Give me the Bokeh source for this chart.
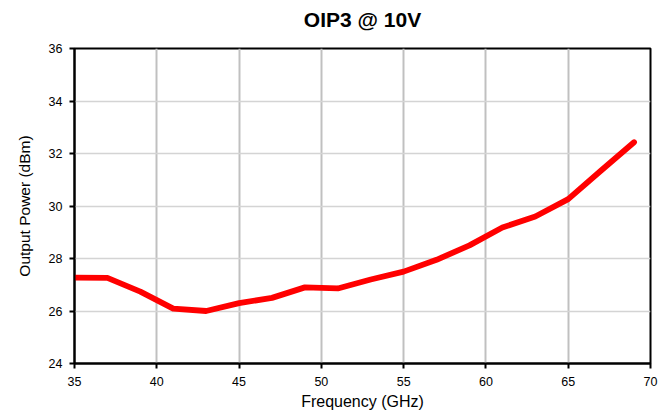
from bokeh.plotting import figure
from bokeh.models import FixedTicker, Range1d, Title
from bokeh.embed import file_html
from bokeh.resources import INLINE

freq_ghz = [35, 37, 39, 41, 43, 45, 47, 49, 51, 53, 55, 57, 59, 61, 63, 65, 67, 69]
oip3_dbm = [27.27, 27.26, 26.74, 26.09, 26.0, 26.3, 26.5, 26.9, 26.86, 27.2, 27.5,
            27.95, 28.5, 29.18, 29.6, 30.26, 31.35, 32.43]
x_ticks = [35, 40, 45, 50, 55, 60, 65, 70]
y_ticks = [24, 26, 28, 30, 32, 34, 36]
title_text = "OIP3 @ 10V"

FONT = "Liberation Sans"

p = figure(width=660, height=412, output_backend="svg", toolbar_location=None,
           x_range=Range1d(35, 70), y_range=Range1d(24, 36),
           min_border_left=74, min_border_right=10, min_border_top=0, min_border_bottom=48)

p.title.text = title_text
p.title.align = "center"
p.title.text_font = FONT
p.title.text_font_size = "21px"
p.title.text_font_style = "bold"
p.title.text_color = "black"
p.title.offset = 0
p.title.standoff = 11

# empty spacer panel between the title and the frame
p.add_layout(Title(text=" ", text_font_size="2px", standoff=8), "above")

p.line(freq_ghz, oip3_dbm, line_color="#ff0000", line_width=5.8, line_cap="round", line_join="round")

p.xaxis.ticker = FixedTicker(ticks=x_ticks)
p.yaxis.ticker = FixedTicker(ticks=y_ticks)
p.xaxis.axis_label = "Frequency (GHz)"
p.yaxis.axis_label = "Output Power (dBm)"
for ax in (p.xaxis, p.yaxis):
    ax.axis_label_text_font = FONT
    ax.axis_label_text_font_style = "normal"
    ax.axis_label_text_color = "black"
    ax.major_label_text_font = FONT
    ax.major_label_text_font_size = "12.5px"
    ax.major_label_text_color = "black"
    ax.axis_line_color = "black"
    ax.axis_line_width = 2
    ax.major_tick_line_color = "black"
    ax.major_tick_line_width = 2
    ax.major_tick_in = 0
    ax.major_tick_out = 5
    ax.minor_tick_line_color = None
p.xaxis.axis_label_text_font_size = "16px"
p.yaxis.axis_label_text_font_size = "15.5px"
p.xaxis.major_label_standoff = 8
p.xaxis.axis_label_standoff = 4
p.yaxis.major_label_standoff = 7
p.yaxis.axis_label_standoff = 13

p.xgrid.ticker = FixedTicker(ticks=x_ticks)
p.ygrid.ticker = FixedTicker(ticks=y_ticks)
p.xgrid.grid_line_color = "#c0c0c0"
p.xgrid.grid_line_width = 2
p.ygrid.grid_line_color = "#d4d4d4"
p.ygrid.grid_line_width = 1.5

p.outline_line_color = "black"
p.outline_line_width = 2
p.outline_line_alpha = 1
p.background_fill_color = "white"
p.border_fill_color = "white"

open("out.html", "w").write(file_html(p, INLINE))
